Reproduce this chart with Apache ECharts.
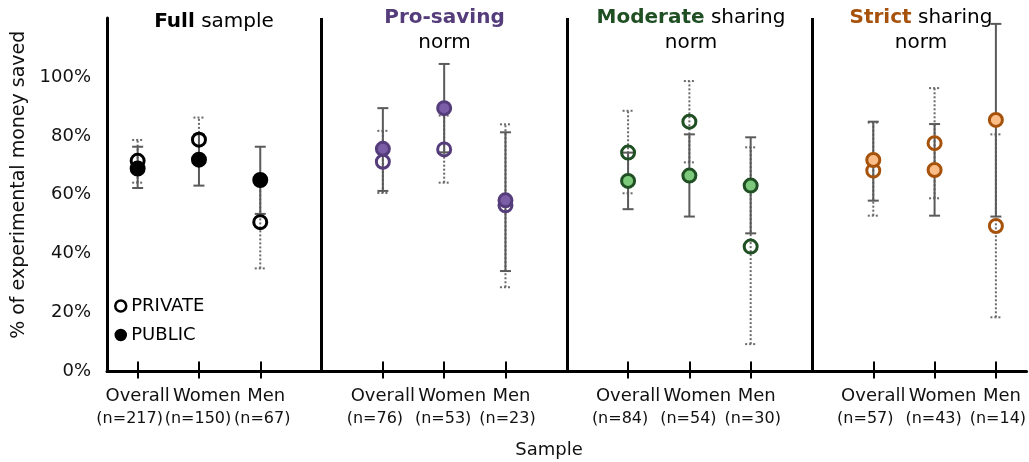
<!DOCTYPE html>
<html><head><meta charset="utf-8">
<script src="https://cdn.jsdelivr.net/npm/echarts@6/dist/echarts.min.js"></script>
<style>html,body{margin:0;padding:0;background:#fff}#c{width:1029px;height:462px}</style>
</head><body><div id="c"></div>
<script>
// ---- data ----
const groupNames = ['Overall', 'Women', 'Men'];
const sampleSizes = [217, 150, 67, 76, 53, 23, 84, 54, 30, 57, 43, 14];
const privateMean = [71.5, 78.7, 50.7, 71.2, 75.4, 56.4, 74.3, 84.8, 42.4, 68.2, 77.5, 49.4];
const privateLow  = [64.1, 71.5, 35.0, 60.6, 64.1, 28.6, 60.5, 71.0, 9.3, 52.9, 58.8, 18.4];
const privateHigh = [78.6, 86.2, 66.0, 81.7, 86.9, 83.9, 88.5, 98.6, 76.1, 84.5, 96.2, 80.5];
const publicMean  = [68.9, 71.9, 65.0, 75.6, 89.4, 58.1, 64.7, 66.5, 63.1, 71.8, 68.4, 85.4];
const publicLow   = [62.3, 63.1, 53.5, 61.3, 74.4, 34.1, 55.1, 52.6, 46.9, 58.0, 52.9, 52.6];
const publicHigh  = [76.3, 80.5, 76.3, 89.4, 104.4, 81.2, 74.3, 80.5, 79.5, 84.8, 84.0, 118.0];
const yTickValues = [0, 20, 40, 60, 80, 100];
const panelBold = ['Full', 'Pro-saving', 'Moderate', 'Strict'];
const panelRest = [' sample', '', ' sharing', ' sharing'];
const panelLine2 = ['', 'norm', 'norm', 'norm'];
const legendNames = ['PRIVATE', 'PUBLIC'];
const yAxisTitle = '% of experimental money saved';
const xAxisTitle = 'Sample';

// ---- styles ----
const FONT = 'DejaVu Sans';
const edgeColors = ['#000000', '#553c7b', '#1f4f23', '#a6520b'];
const fillColors = ['#000000', '#7b5ca7', '#7cc97c', '#fbbd88'];
const panelCenters = [214, 444.5, 691, 921];
// horizontal nudge (px) of the two label lines for Overall / Women / Men
const nameShift = [0, 8, 6];
const nShift = [-8, -1, 2];

// categories: 3 groups per panel, blank separator category between panels
const categories = [];
const sepIdx = [];
for (let p = 0; p < 4; p++) {
  for (let g = 0; g < 3; g++) {
    categories.push(groupNames[g] + '\n(n=' + sampleSizes[p * 3 + g] + ')');
  }
  if (p < 3) { sepIdx.push(categories.length); categories.push(' '.repeat(p + 1)); }
}
const catOf = i => Math.floor(i / 3) * 4 + (i % 3);
const isBlank = v => v.trim() === '';

const errPriv = privateMean.map((m, i) => [catOf(i), privateLow[i], privateHigh[i]]);
const errPub = publicMean.map((m, i) => [catOf(i), publicLow[i], publicHigh[i]]);

function errRender(dashed) {
  return function (params, api) {
    const x = api.value(0);
    const lo = api.coord([x, api.value(1)]);
    const hi = api.coord([x, api.value(2)]);
    const style = { stroke: dashed ? '#6a6a6a' : '#5a5a5a', lineWidth: 2, lineDash: dashed ? [2, 2] : null };
    const w = 5.5;
    return {
      type: 'group',
      children: [
        { type: 'line', shape: { x1: lo[0], y1: lo[1], x2: hi[0], y2: hi[1] }, style: style },
        { type: 'line', shape: { x1: hi[0] - w, y1: hi[1], x2: hi[0] + w, y2: hi[1] }, style: style },
        { type: 'line', shape: { x1: lo[0] - w, y1: lo[1], x2: lo[0] + w, y2: lo[1] }, style: style }
      ]
    };
  };
}

const shiftPad = s => s >= 0 ? [0, 0, 0, 2 * s] : [0, -2 * s, 0, 0];
const labelRich = {};
for (let g = 0; g < 3; g++) {
  labelRich['a' + g] = { fontFamily: FONT, fontSize: 18, color: '#111', lineHeight: 22, padding: shiftPad(nameShift[g]) };
  labelRich['b' + g] = { fontFamily: FONT, fontSize: 16, color: '#111', lineHeight: 22, padding: shiftPad(nShift[g]) };
}

const titles = panelBold.map((b, p) => {
  let txt = '{b|' + b + '}' + (panelRest[p] ? '{n|' + panelRest[p] + '}' : '');
  if (panelLine2[p]) txt += '\n{n|' + panelLine2[p] + '}';
  return {
    text: txt, left: panelCenters[p], top: panelLine2[p] ? 5 : 9, textAlign: 'center', padding: 0,
    textStyle: {
      fontWeight: 'normal', fontFamily: FONT, fontSize: 20,
      rich: {
        b: { fontFamily: FONT, fontSize: 20, fontWeight: 'bold', color: edgeColors[p], lineHeight: 25 },
        n: { fontFamily: FONT, fontSize: 20, fontWeight: 'normal', color: '#000', lineHeight: 25 }
      }
    }
  };
});
titles.push({ text: xAxisTitle, left: 549, top: 441, textAlign: 'center', padding: 0,
  textStyle: { fontFamily: FONT, fontSize: 18, fontWeight: 'normal', color: '#111' } });

const chart = echarts.init(document.getElementById('c'));
chart.setOption({
  animation: false,
  backgroundColor: '#fff',
  title: titles,
  grid: { left: 107, right: 0, top: 18, bottom: 90.5, containLabel: false },
  legend: {
    orient: 'vertical', left: 109, top: 292, itemWidth: 11, itemHeight: 11, itemGap: 11,
    textStyle: { fontFamily: FONT, fontSize: 18, color: '#000' },
    data: [
      { name: legendNames[0], icon: 'circle', itemStyle: { opacity: 1, color: '#fff', borderColor: '#000', borderWidth: 2.5 } },
      { name: legendNames[1], icon: 'circle', itemStyle: { opacity: 1, color: '#000', borderColor: '#000', borderWidth: 1.5 } }
    ]
  },
  xAxis: [{
    type: 'category', data: categories, position: 'bottom',
    axisLine: { show: true, lineStyle: { color: '#000', width: 3 } },
    axisTick: { show: true, alignWithLabel: true, length: 7, lineStyle: { color: '#000', width: 2 },
      interval: (i, v) => !isBlank(v) },
    axisLabel: {
      interval: 0, margin: 14, color: '#111',
      formatter: (v, idx) => {
        if (isBlank(v)) return '';
        const g = idx % 4;
        const parts = v.split('\n');
        return '{a' + g + '|' + parts[0] + '}\n{b' + g + '|' + parts[1] + '}';
      },
      rich: labelRich
    },
    splitLine: { show: false }
  }, {
    type: 'category', data: categories, position: 'bottom',
    axisLine: { show: false },
    axisTick: { show: true, inside: true, alignWithLabel: true, length: 10, lineStyle: { color: '#000', width: 2 },
      interval: (i, v) => !isBlank(v) },
    axisLabel: { show: false }, splitLine: { show: false }
  }],
  yAxis: {
    type: 'value', min: 0, max: 120, interval: 20,
    name: yAxisTitle, nameLocation: 'middle', nameGap: 77,
    nameTextStyle: { fontFamily: FONT, fontSize: 19, color: '#111', padding: [0, 0, 0, 20] },
    axisLine: { show: true, lineStyle: { color: '#000', width: 3 } },
    axisTick: { show: false },
    splitLine: { show: false },
    axisLabel: { margin: 16, fontFamily: FONT, fontSize: 18, color: '#111',
      formatter: v => yTickValues.indexOf(v) >= 0 ? v + '%' : '' }
  },
  series: [
    {
      type: 'custom', name: 'errPrivate', renderItem: errRender(true), data: errPriv, z: 2, silent: true,
      markLine: {
        silent: true, symbol: ['none', 'none'], label: { show: false },
        lineStyle: { color: '#000', width: 3, type: 'solid' },
        data: sepIdx.map(i => ({ xAxis: i }))
      }
    },
    { type: 'custom', name: 'errPublic', renderItem: errRender(false), data: errPub, z: 3, silent: true },
    {
      type: 'scatter', name: legendNames[0], symbol: 'circle', symbolSize: 13, z: 4,
      itemStyle: { opacity: 1, color: 'rgba(0,0,0,0)', borderColor: '#000', borderWidth: 3 },
      data: privateMean.map((v, i) => ({
        value: [catOf(i), v],
        itemStyle: { opacity: 1, color: 'rgba(0,0,0,0)', borderColor: edgeColors[Math.floor(i / 3)], borderWidth: 3 }
      }))
    },
    {
      type: 'scatter', name: legendNames[1], symbol: 'circle', symbolSize: 13, z: 5,
      itemStyle: { opacity: 1, color: '#000', borderColor: '#000', borderWidth: 3 },
      data: publicMean.map((v, i) => ({
        value: [catOf(i), v],
        itemStyle: { opacity: 1, color: fillColors[Math.floor(i / 3)], borderColor: edgeColors[Math.floor(i / 3)], borderWidth: 3 }
      }))
    }
  ]
});
</script></body></html>
